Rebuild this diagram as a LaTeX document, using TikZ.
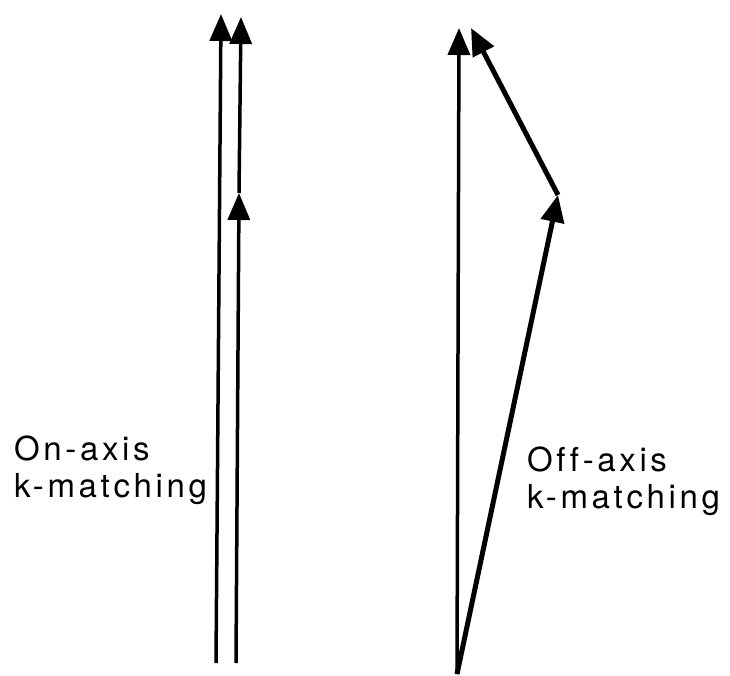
\documentclass[tikz,border=0pt]{standalone}
\usepackage{fontspec}
\setmainfont{TeX Gyre Heros}[LetterSpace=11,Ligatures=NoCommon]
\usetikzlibrary{arrows.meta}
\tikzset{
  vec/.style={line width=3.5pt,-{Triangle[length=27pt,width=22pt]}},
  vecthick/.style={line width=5pt,-{Triangle[length=27pt,width=23pt]}},
  lbl/.style={anchor=base west,inner sep=0pt,font=\fontsize{33}{38}\selectfont}
}
\begin{document}
\begin{tikzpicture}[x=1pt,y=-1pt]
\useasboundingbox (0,0) rectangle (730,676);
% on-axis
\coordinate (a0) at (216,663);
\coordinate (a1) at (221,14);
\coordinate (b0) at (236,663);
\coordinate (b1) at (239,193);
\coordinate (b2) at (241,17);
\draw[vec] (a0) -- (a1);
\draw[vec] (b0) -- (b1);
\draw[vec] (b1) -- (b2);
% off-axis
\coordinate (c0) at (457,674);
\coordinate (c1) at (459,28);
\coordinate (d1) at (558,195);
\coordinate (d2) at (471,28);
\draw[vec] (c0) -- (c1);
\draw[vecthick] (c0) -- (d1);
\draw[vecthick] (d1) -- (d2);
% labels
\node[lbl] (l1) at (14,460) {On-axis};
\node[lbl] (l2) at (14,497) {k-matching};
\node[lbl] (r1) at (527,471) {Off-axis};
\node[lbl] (r2) at (527,508) {k-matching};
\end{tikzpicture}
\end{document}
